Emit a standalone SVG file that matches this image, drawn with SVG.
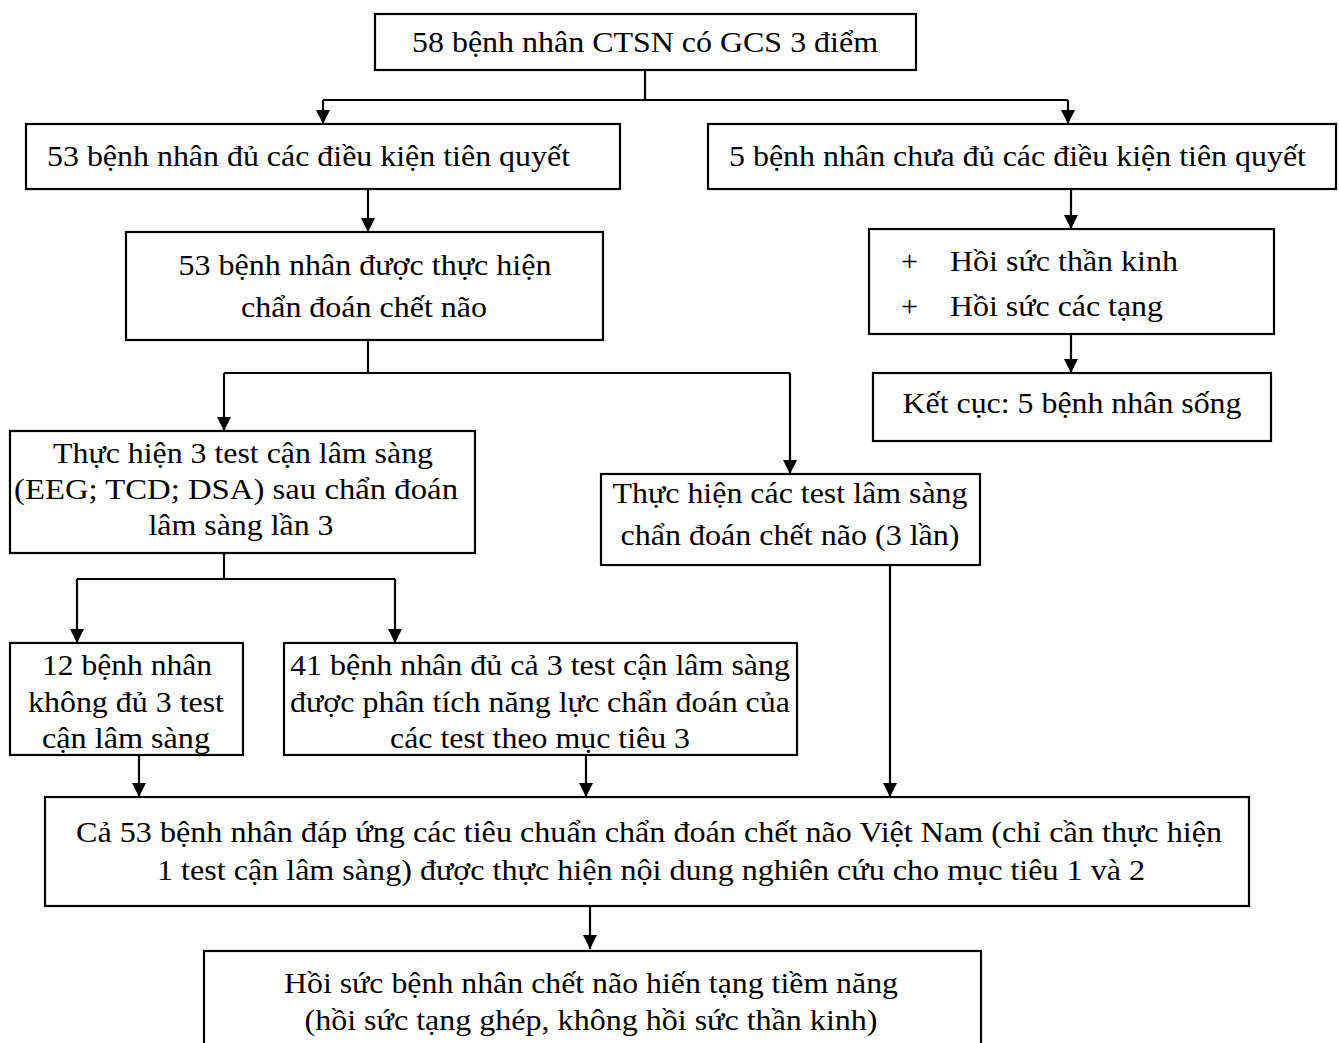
<svg xmlns="http://www.w3.org/2000/svg" width="1339" height="1043" viewBox="0 0 1339 1043">
<defs>
<style>
.box{fill:#fff;stroke:#000;stroke-width:2.2}
.t{font-family:"Liberation Serif","Times New Roman",serif;font-size:30px;fill:#000}
.m{text-anchor:middle}
.c{fill:none;stroke:#000;stroke-width:2.2}
</style>
<marker id="arv" markerUnits="userSpaceOnUse" markerWidth="14" markerHeight="14" viewBox="0 0 14 14" refX="14" refY="7" orient="auto">
<path d="M0,0 L14,7 L0,14 Z" fill="#000"/>
</marker>
</defs>
<rect width="1339" height="1043" fill="#fff"/>
<g id="connectors">
<path class="c" d="M645 70 V100 M323 100 H1068 M368 340 V373 M224 373 H790 M224 553 V579 M77 579 H395"/>
<path class="c" marker-end="url(#arv)" d="M323 100 V124"/>
<path class="c" marker-end="url(#arv)" d="M1068 100 V124"/>
<path class="c" marker-end="url(#arv)" d="M368 189 V232"/>
<path class="c" marker-end="url(#arv)" d="M1071 189 V229"/>
<path class="c" marker-end="url(#arv)" d="M1071 334 V373"/>
<path class="c" marker-end="url(#arv)" d="M224 373 V431"/>
<path class="c" marker-end="url(#arv)" d="M790 373 V474"/>
<path class="c" marker-end="url(#arv)" d="M77 579 V643"/>
<path class="c" marker-end="url(#arv)" d="M395 579 V643"/>
<path class="c" marker-end="url(#arv)" d="M139 755 V797"/>
<path class="c" marker-end="url(#arv)" d="M586 755 V797"/>
<path class="c" marker-end="url(#arv)" d="M890 565 V797"/>
<path class="c" marker-end="url(#arv)" d="M590 906 V949"/>
</g>
<g id="n1">
<rect class="box" x="375" y="14" width="541" height="56"/>
<text class="t m" x="645" y="52" textLength="466" lengthAdjust="spacingAndGlyphs">58 bệnh nhân CTSN có GCS 3 điểm</text>
</g>
<g id="n2">
<rect class="box" x="26" y="124" width="594" height="65"/>
<text class="t" x="47" y="166" textLength="523" lengthAdjust="spacingAndGlyphs">53 bệnh nhân đủ các điều kiện tiên quyết</text>
</g>
<g id="n3">
<rect class="box" x="708" y="124" width="628" height="65"/>
<text class="t" x="729" y="166" textLength="577" lengthAdjust="spacingAndGlyphs">5 bệnh nhân chưa đủ các điều kiện tiên quyết</text>
</g>
<g id="n4">
<rect class="box" x="126" y="232" width="477" height="108"/>
<text class="t m" x="365" y="275" textLength="373" lengthAdjust="spacingAndGlyphs">53 bệnh nhân được thực hiện</text>
<text class="t m" x="364" y="317" textLength="246" lengthAdjust="spacingAndGlyphs">chẩn đoán chết não</text>
</g>
<g id="n5">
<rect class="box" x="869" y="229" width="405" height="105"/>
<text class="t" x="901" y="271">+</text>
<text class="t" x="950" y="271" textLength="228" lengthAdjust="spacingAndGlyphs">Hồi sức thần kinh</text>
<text class="t" x="901" y="316">+</text>
<text class="t" x="950" y="316" textLength="213" lengthAdjust="spacingAndGlyphs">Hồi sức các tạng</text>
</g>
<g id="n6">
<rect class="box" x="873" y="373" width="398" height="68"/>
<text class="t m" x="1072" y="413" textLength="339" lengthAdjust="spacingAndGlyphs">Kết cục: 5 bệnh nhân sống</text>
</g>
<g id="n7">
<rect class="box" x="10" y="431" width="465" height="122"/>
<text class="t m" x="243" y="463" textLength="380" lengthAdjust="spacingAndGlyphs">Thực hiện 3 test cận lâm sàng</text>
<text class="t m" x="236" y="499" textLength="444" lengthAdjust="spacingAndGlyphs">(EEG; TCD; DSA) sau chẩn đoán</text>
<text class="t m" x="241" y="535" textLength="185" lengthAdjust="spacingAndGlyphs">lâm sàng lần 3</text>
</g>
<g id="n8">
<rect class="box" x="601" y="474" width="379" height="91"/>
<text class="t m" x="790" y="503" textLength="355" lengthAdjust="spacingAndGlyphs">Thực hiện các test lâm sàng</text>
<text class="t m" x="790" y="545" textLength="339" lengthAdjust="spacingAndGlyphs">chẩn đoán chết não (3 lần)</text>
</g>
<g id="n9">
<rect class="box" x="10" y="643" width="233" height="112"/>
<text class="t m" x="127" y="675" textLength="170" lengthAdjust="spacingAndGlyphs">12 bệnh nhân</text>
<text class="t m" x="126" y="712" textLength="196" lengthAdjust="spacingAndGlyphs">không đủ 3 test</text>
<text class="t m" x="126" y="748" textLength="168" lengthAdjust="spacingAndGlyphs">cận lâm sàng</text>
</g>
<g id="n10">
<rect class="box" x="284" y="643" width="513" height="112"/>
<text class="t m" x="540" y="675" textLength="500" lengthAdjust="spacingAndGlyphs">41 bệnh nhân đủ cả 3 test cận lâm sàng</text>
<text class="t m" x="540" y="712" textLength="500" lengthAdjust="spacingAndGlyphs">được phân tích năng lực chẩn đoán của</text>
<text class="t m" x="540" y="748" textLength="300" lengthAdjust="spacingAndGlyphs">các test theo mục tiêu 3</text>
</g>
<g id="n11">
<rect class="box" x="45" y="797" width="1204" height="109"/>
<text class="t m" x="649" y="842" textLength="1146" lengthAdjust="spacingAndGlyphs">Cả 53 bệnh nhân đáp ứng các tiêu chuẩn chẩn đoán chết não Việt Nam (chỉ cần thực hiện</text>
<text class="t m" x="651" y="880" textLength="988" lengthAdjust="spacingAndGlyphs">1 test cận lâm sàng) được thực hiện nội dung nghiên cứu cho mục tiêu 1 và 2</text>
</g>
<g id="n12">
<rect class="box" x="204" y="951" width="777" height="110"/>
<text class="t m" x="591" y="993" textLength="614" lengthAdjust="spacingAndGlyphs">Hồi sức bệnh nhân chết não hiến tạng tiềm năng</text>
<text class="t m" x="591" y="1030" textLength="573" lengthAdjust="spacingAndGlyphs">(hồi sức tạng ghép, không hồi sức thần kinh)</text>
</g>
</svg>
